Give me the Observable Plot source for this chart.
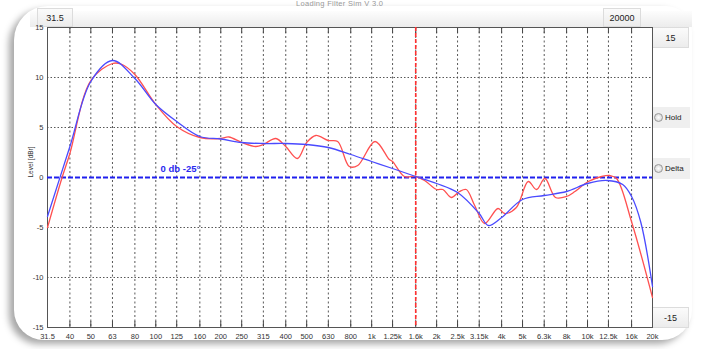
<!DOCTYPE html>
<html><head><meta charset="utf-8">
<script src="https://cdn.jsdelivr.net/npm/d3@7"></script>
<script src="https://cdn.jsdelivr.net/npm/@observablehq/plot@0.6"></script>
<style>
html,body{margin:0;padding:0;background:#fff;}
#wrap{position:relative;width:701px;height:349px;overflow:hidden;font-family:"Liberation Sans",Arial,sans-serif;}
#panel{position:absolute;left:14px;top:6px;width:678px;height:334px;border-radius:34px 26px 30px 30px;background:#fff;box-shadow:-5px 4px 7px rgba(0,0,0,0.35);}
#topbar{position:absolute;left:30px;top:11px;width:662px;height:16px;background:linear-gradient(#fdfdfd,#ececec);}
.box{position:absolute;font-size:9px;color:#222;text-align:center;background:linear-gradient(#fbfbfb,#ececec);border:1px solid #dcdcdc;box-sizing:border-box;}
.btn{position:absolute;font-size:8px;color:#222;background:#efefef;box-sizing:border-box;white-space:nowrap;overflow:hidden;}
.radio{display:inline-block;width:7px;height:7px;border-radius:50%;border:1px solid #999;background:radial-gradient(#fff,#ccc);vertical-align:middle;margin:0 2px 0 2px;}
#title{position:absolute;left:296px;top:0px;font-size:7.5px;line-height:8px;color:#999;letter-spacing:0.3px;}
svg{position:absolute;left:0;top:0;}
</style></head>
<body><div id="wrap">
<div id="panel"></div>
<div id="topbar"></div>
<div id="title">Loading Filter Sim V 3.0</div>
<div class="box" style="left:37px;top:8px;width:36px;height:19px;line-height:18px;">31.5</div>
<div class="box" style="left:603px;top:8px;width:38px;height:19px;line-height:18px;">20000</div>
<div class="box" style="left:652px;top:27px;width:37px;height:21px;line-height:20px;">15</div>
<div class="btn" style="left:652px;top:107px;width:38px;height:21px;line-height:21px;"><span class="radio"></span>Hold</div>
<div class="btn" style="left:652px;top:158px;width:38px;height:21px;line-height:21px;"><span class="radio"></span>Delta</div>
<div class="box" style="left:652px;top:307px;width:37px;height:21px;line-height:20px;">-15</div>
<div id="chart"></div>
</div>
<script>
// x ticks (third-octave)
const xTicks = [31.5,40,50,63,80,100,125,160,200,250,315,400,500,630,800,1000,1250,1600,2000,2500,3150,4000,5000,6300,8000,10000,12500,16000,20000];
const xLabels = ["31.5","40","50","63","80","100","125","160","200","250","315","400","500","630","800","1k","1.25k","1.6k","2k","2.5k","3.15k","4k","5k","6.3k","8k","10k","12.5k","16k","20k"];
const yTicks = [-15,-10,-5,0,5,10,15];
const markerFreq = 1600;
const zeroLabel = "0 db -25°";
const zeroLabelFreq = 130;

// measured (red) response
const redFreq = [31.5,36.8,40,50,63,69,80,100,125,160,200,218,250,291,315,360,400,453,500,551,630,696,788,862,1037,1207,1250,1419,1600,1758,2000,2138,2339,2553,2743,3001,3336,3849,4133,4681,5314,5802,6347,7106,7992,8744,10083,11633,12698,13640,16034,20000];
const redDb   = [-5.0,0.0,2.4,9.7,11.4,11.35,10.3,7.3,5.1,4.0,3.9,4.05,3.5,3.1,3.3,3.9,3.1,1.9,3.5,4.2,3.7,3.6,1.1,1.2,3.6,1.8,1.6,0.1,0.1,-0.3,-1.2,-1.2,-2.0,-1.4,-1.2,-2.8,-4.6,-3.1,-3.6,-3.0,-0.4,-1.2,-0.1,-2.0,-1.9,-1.4,-0.4,0.1,0.2,-0.1,-4.5,-12.0];

// smoothed (blue) response
const blueFreq = [31.5,40,50,63,80,100,125,160,200,250,315,400,500,630,800,1000,1250,1600,2000,2500,3150,3471,4000,5000,6300,8000,10000,12323,14553,16000,17665,20000];
const blueDb   = [-3.9,3.1,9.6,11.7,9.9,7.3,5.6,4.1,3.85,3.5,3.4,3.4,3.3,3.0,2.3,1.6,0.9,0.1,-0.6,-1.5,-3.6,-4.8,-4.0,-2.2,-1.8,-1.4,-0.6,-0.3,-0.7,-1.9,-4.5,-10.9];

const red = redFreq.map((f,i)=>({f, db: redDb[i]}));
const blue = blueFreq.map((f,i)=>({f, db: blueDb[i]}));
const xTickTable = xTicks.map((t,i)=>({t, label: xLabels[i]}));

const chart = Plot.plot({
  width: 701, height: 349,
  marginLeft: 47, marginRight: 49, marginTop: 27, marginBottom: 22,
  x: {type: "log", domain: [31.5, 20000], axis: null},
  y: {domain: [-15, 15], axis: null},
  style: {background: "transparent", fontFamily: "'Liberation Sans', Arial, sans-serif", fontSize: "8px", color: "#333"},
  marks: [
    Plot.ruleX(xTicks.slice(1, -1), {stroke: "#444", strokeWidth: 0.9, strokeDasharray: "2,2.5"}),
    Plot.ruleY([-10, -5, 5, 10], {stroke: "#444", strokeWidth: 0.9, strokeDasharray: "1.5,2"}),
    Plot.ruleX(xTicks, {y1: -15, y2: -14.4, stroke: "#444", strokeWidth: 1}),
    Plot.ruleX(xTicks, {y1: 15, y2: 14.4, stroke: "#444", strokeWidth: 1}),
    Plot.frame({stroke: "#555", strokeWidth: 1}),
    Plot.text(xTickTable, {x: "t", text: "label", frameAnchor: "bottom", dy: 11, fontSize: 7.5, fill: "#333"}),
    Plot.text(yTicks, {y: d => d, text: d => String(d), frameAnchor: "left", textAnchor: "end", dx: -4, fontSize: 7.5, fill: "#333"}),
    Plot.text(["Level [dBr]"], {frameAnchor: "left", rotate: -90, dx: -17, fontSize: 6.5, fill: "#333"}),
    Plot.ruleX([markerFreq], {stroke: "#ff3030", strokeWidth: 1.6, strokeDasharray: "4,2"}),
    Plot.ruleY([0], {stroke: "#2020ee", strokeWidth: 2.2, strokeDasharray: "5,2"}),
    Plot.text([zeroLabel], {x: [zeroLabelFreq], y: [0], dy: -9, fill: "#2a2af0", fontSize: 9.5, fontWeight: 600}),
    Plot.line(red, {x: "f", y: "db", curve: "catmull-rom", stroke: "#ff5050", strokeWidth: 1.3}),
    Plot.line(blue, {x: "f", y: "db", curve: "catmull-rom", stroke: "#4a4aff", strokeWidth: 1.3})
  ]
});
document.getElementById("chart").appendChild(chart);
</script>
</body></html>
